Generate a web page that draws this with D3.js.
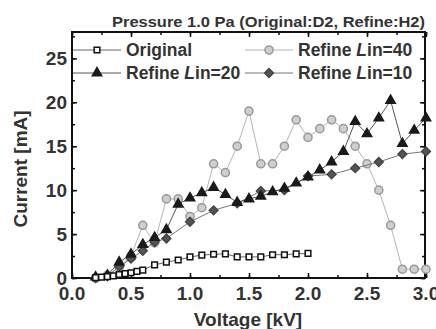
<!DOCTYPE html>
<html lang="en">
	<head>
		<meta charset="utf-8">
		<title>Pressure 1.0 Pa</title>
		<script src="https://d3js.org/d3.v7.min.js"></script>
		<style>
			body { margin: 0; background: #fff; }
			text { font-family: "Liberation Sans", Arial, sans-serif; }
		</style>
	</head>
	<body>
		<script type="text/javascript">

			// data
			var origX = [0.2, 0.25, 0.3, 0.35, 0.4, 0.45, 0.5, 0.55, 0.6, 0.7, 0.8, 0.9, 1.0, 1.1, 1.2, 1.3, 1.4, 1.5, 1.6, 1.7, 1.8, 1.9, 2.0];
			var origY = [0.05, 0.1, 0.15, 0.25, 0.4, 0.5, 0.6, 0.75, 0.9, 1.5, 1.8, 2.05, 2.4, 2.6, 2.7, 2.75, 2.4, 2.4, 2.4, 2.65, 2.65, 2.75, 2.8];

			var lin40X = [0.2, 0.3, 0.4, 0.5, 0.6, 0.7, 0.8, 0.9, 1.0, 1.1, 1.2, 1.3, 1.4, 1.5, 1.6, 1.7, 1.8, 1.9, 2.0, 2.1, 2.2, 2.3, 2.4, 2.5, 2.6, 2.7, 2.8, 2.9, 3.0];
			var lin40Y = [0, 0.3, 1.2, 2.5, 6.0, 4.0, 9.0, 9.0, 7.0, 8.0, 13, 12, 15, 19, 13, 13, 15, 18, 16, 17, 18, 17, 15, 13, 10, 6, 1, 1, 1];

			var lin20X = [0.2, 0.3, 0.4, 0.5, 0.6, 0.7, 0.8, 0.9, 1.0, 1.1, 1.2, 1.3, 1.4, 1.5, 1.6, 1.7, 1.8, 1.9, 2.0, 2.1, 2.2, 2.3, 2.4, 2.5, 2.6, 2.7, 2.8, 2.9, 3.0];
			var lin20Y = [0.1, 0.3, 1.8, 2.7, 3.8, 4.6, 5.5, 8.4, 9.1, 9.7, 10.3, 9.5, 8.6, 9.0, 9.3, 9.8, 10.2, 10.8, 11.5, 12.3, 13.2, 14.4, 17.8, 16.4, 18.2, 20.2, 15.3, 16.8, 18.2];

			var lin10X = [0.2, 0.3, 0.4, 0.5, 0.6, 0.7, 0.8, 1.0, 1.2, 1.4, 1.6, 1.8, 2.0, 2.2, 2.4, 2.6, 2.8, 3.0];
			var lin10Y = [0, 0.2, 1.3, 2.2, 3.1, 4.1, 4.5, 6.4, 7.7, 8.5, 9.9, 10.0, 11.6, 11.8, 12.5, 13.2, 14.1, 14.4];

			var xTicks = [0, 0.5, 1.0, 1.5, 2.0, 2.5, 3.0];
			var yTicks = [0, 5, 10, 15, 20, 25];

			// size of svg and plot frame
			var w = 436;
			var h = 329;
			var pLeft = 72, pRight = 425, pTop = 32, pBottom = 278;

			// scales
			var xScale = d3.scaleLinear().domain([0, 3]).range([pLeft, 426]);
			var yScale = d3.scaleLinear().domain([0, 28]).range([pBottom, pTop]);

			var svg = d3.select("body").append("svg").attr("width", w).attr("height", h);

			// title
			svg.append("text")
				.attr("x", 112).attr("y", 27)
				.attr("textLength", 313).attr("lengthAdjust", "spacingAndGlyphs")
				.attr("font-size", "15.5px").attr("font-weight", "bold")
				.attr("fill", "#333")
				.text("Pressure 1.0 Pa (Original:D2, Refine:H2)");

			// axes (ticks pointing inward) + minor ticks
			var xMinor = d3.range(0, 3.01, 0.25);
			var yMinor = d3.range(0, 28, 2.5);

			svg.append("g").attr("transform", "translate(0," + pBottom + ")")
				.call(d3.axisTop(xScale).tickValues(xMinor).tickSize(3).tickFormat(""));
			svg.append("g").attr("transform", "translate(0," + pBottom + ")")
				.call(d3.axisTop(xScale).tickValues(xTicks).tickSize(5).tickFormat(""));
			svg.append("g").attr("transform", "translate(0," + pTop + ")")
				.call(d3.axisBottom(xScale).tickValues(xMinor).tickSize(3).tickFormat(""));
			svg.append("g").attr("transform", "translate(0," + pTop + ")")
				.call(d3.axisBottom(xScale).tickValues(xTicks).tickSize(5).tickFormat(""));

			svg.append("g").attr("transform", "translate(" + pLeft + ",0)")
				.call(d3.axisRight(yScale).tickValues(yMinor).tickSize(3).tickFormat(""));
			svg.append("g").attr("transform", "translate(" + pLeft + ",0)")
				.call(d3.axisRight(yScale).tickValues(yTicks).tickSize(5).tickFormat(""));
			svg.append("g").attr("transform", "translate(" + pRight + ",0)")
				.call(d3.axisLeft(yScale).tickValues(yMinor).tickSize(3).tickFormat(""));
			svg.append("g").attr("transform", "translate(" + pRight + ",0)")
				.call(d3.axisLeft(yScale).tickValues(yTicks).tickSize(5).tickFormat(""));

			svg.selectAll(".domain").remove();
			svg.selectAll(".tick line").attr("stroke", "#111").attr("stroke-width", 1.5);

			// frame
			svg.append("rect")
				.attr("x", pLeft).attr("y", pTop)
				.attr("width", pRight - pLeft).attr("height", pBottom - pTop)
				.attr("fill", "none").attr("stroke", "#111").attr("stroke-width", 2);

			// tick labels
			svg.selectAll(".xlab").data(xTicks).enter().append("text")
				.attr("x", function(d) { return xScale(d); })
				.attr("y", 300)
				.attr("text-anchor", "middle")
				.attr("font-size", "19px").attr("font-weight", "bold").attr("fill", "#333")
				.text(function(d) { return d.toFixed(1); });

			svg.selectAll(".ylab").data(yTicks).enter().append("text")
				.attr("x", pLeft - 5)
				.attr("y", function(d) { return yScale(d) + 7; })
				.attr("text-anchor", "end")
				.attr("font-size", "19px").attr("font-weight", "bold").attr("fill", "#333")
				.text(function(d) { return d; });

			// axis titles
			svg.append("text")
				.attr("x", 248).attr("y", 326)
				.attr("text-anchor", "middle")
				.attr("font-size", "19px").attr("font-weight", "bold").attr("fill", "#333")
				.text("Voltage [kV]");

			svg.append("text")
				.attr("transform", "translate(27,169) rotate(-90)")
				.attr("text-anchor", "middle")
				.attr("font-size", "19px").attr("font-weight", "bold").attr("fill", "#333")
				.text("Current [mA]");

			// series styles (diamond = square turned 45deg)
			var series = [
				{ name: "Refine Lin=40", xs: lin40X, ys: lin40Y, shape: d3.symbolCircle, size: 52, rot: 0, fill: "#cfcfcf", stroke: "#999", line: "#b5b5b5" },
				{ name: "Refine Lin=10", xs: lin10X, ys: lin10Y, shape: d3.symbolSquare, size: 38, rot: 45, fill: "#555", stroke: "#444", line: "#777" },
				{ name: "Refine Lin=20", xs: lin20X, ys: lin20Y, shape: d3.symbolTriangle, size: 38, rot: 0, fill: "#1a1a1a", stroke: "#1a1a1a", line: "#555" },
				{ name: "Original", xs: origX, ys: origY, shape: d3.symbolSquare, size: 32, rot: 0, fill: "#fff", stroke: "#111", line: "#666" }
			];

			var line = d3.line()
				.x(function(d) { return xScale(d[0]); })
				.y(function(d) { return yScale(d[1]); });

			series.forEach(function(s) {
				var pts = s.xs.map(function(x, i) { return [x, s.ys[i]]; });
				svg.append("path")
					.attr("d", line(pts))
					.attr("fill", "none")
					.attr("stroke", s.line)
					.attr("stroke-width", 1);
				svg.selectAll(null).data(pts).enter().append("path")
					.attr("transform", function(d) { return "translate(" + xScale(d[0]) + "," + yScale(d[1]) + ") rotate(" + s.rot + ")"; })
					.attr("d", d3.symbol().type(s.shape).size(s.size))
					.attr("fill", s.fill)
					.attr("stroke", s.stroke)
					.attr("stroke-width", 1.5);
			});

			// legend
			var legend = [
				{ s: series[3], x: 73, y: 50, label: ["Original"] },
				{ s: series[0], x: 245, y: 50, label: ["Refine ", "L", "in=40"] },
				{ s: series[2], x: 73, y: 73, label: ["Refine ", "L", "in=20"] },
				{ s: series[1], x: 245, y: 73, label: ["Refine ", "L", "in=10"] }
			];

			legend.forEach(function(l) {
				var g = svg.append("g").attr("transform", "translate(" + l.x + "," + l.y + ")");
				g.append("line")
					.attr("x1", 0).attr("x2", 48).attr("y1", 0).attr("y2", 0)
					.attr("stroke", l.s.line).attr("stroke-width", 1);
				g.append("path")
					.attr("transform", "translate(24,0) rotate(" + l.s.rot + ")")
					.attr("d", d3.symbol().type(l.s.shape).size(l.s.size))
					.attr("fill", l.s.fill).attr("stroke", l.s.stroke).attr("stroke-width", 1.5);
				var t = g.append("text")
					.attr("x", 53).attr("y", 6)
					.attr("font-size", "17.5px").attr("font-weight", "bold").attr("fill", "#333");
				l.label.forEach(function(part, i) {
					t.append("tspan")
						.attr("font-style", i == 1 ? "italic" : "normal")
						.text(part);
				});
			});

		</script>
	</body>
</html>
